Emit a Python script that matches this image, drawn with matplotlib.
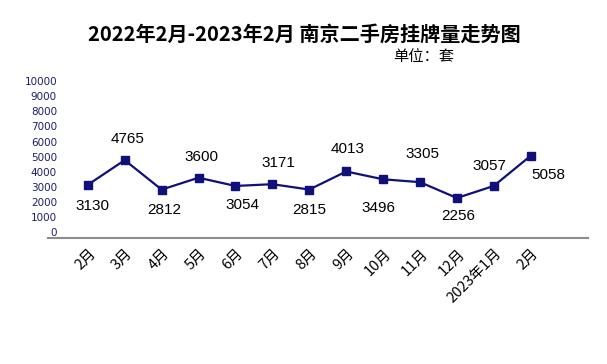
import numpy as np
import matplotlib.pyplot as plt
import matplotlib.transforms as mtransforms

# -----------------------------------------------------------------------------
# Data

months = ['2月', '3月', '4月', '5月', '6月', '7月', '8月', '9月', '10月',
          '11月', '12月', '2023年1月', '2月']
listings = [3130, 4765, 2812, 3600, 3054, 3171, 2815, 4013, 3496,
            3305, 2256, 3057, 5058]
y_ticks = list(range(0, 10001, 1000))

title = '2022年2月-2023年2月 南京二手房挂牌量走势图'
unit = '单位：套'

# -----------------------------------------------------------------------------

plt.rcParams['font.family'] = ['Noto Sans CJK SC', 'DejaVu Sans']
navy = '#10107a'

fig = plt.figure(figsize=(6.07, 3.64), dpi=100)
ax = fig.add_axes([0.079, 0.346, 0.889, 0.431])

x = np.arange(len(months))
ax.plot(x, listings, color=navy, lw=1.6, marker='s', ms=5.8,
        markerfacecolor=navy, markeredgecolor=navy)

# label offsets (points) for each value, alternating below / above
offsets = [(3, -15), (2, 15), (2, -15), (2, 15), (5, -14), (4, 15),
           (0, -15), (1, 16), (-3, -21), (2, 20), (1, -13), (-3, 14),
           (13, -14)]
for xi, v, (dx, dy) in zip(x, listings, offsets):
    ax.annotate(str(v), (xi, v), xytext=(dx, dy), textcoords='offset points',
                ha='center', va='center', fontsize=11,
                family=['Liberation Sans'], color='black')

ax.set_xlim(-1.08, 13.54)
ax.set_ylim(-400, 10000)
ax.set_yticks(y_ticks)
ax.set_yticklabels([str(t) for t in y_ticks], fontsize=7.5,
                   family=['DejaVu Sans'], color='#1c1c6a')
ax.tick_params(axis='y', length=0, pad=-6.5)

ax.set_xticks(x)
ax.set_xticklabels(months, fontsize=10.5, rotation=45, ha='right',
                   rotation_mode='anchor')
ax.tick_params(axis='x', length=0, pad=6)
shift = mtransforms.ScaledTranslation(0.5 / 72, 0, fig.dpi_scale_trans)
for lbl in ax.get_xticklabels():
    lbl.set_transform(lbl.get_transform() + shift)

for s in ['top', 'right', 'left']:
    ax.spines[s].set_visible(False)
ax.spines['bottom'].set_color('#8c8c8c')
ax.spines['bottom'].set_linewidth(1.5)

fig.text(0.502, 0.905, title, ha='center', va='center', fontsize=14.5,
         fontweight='bold')
fig.text(0.698, 0.845, unit, ha='center', va='center', fontsize=11)

plt.savefig('out.png', dpi=100)
